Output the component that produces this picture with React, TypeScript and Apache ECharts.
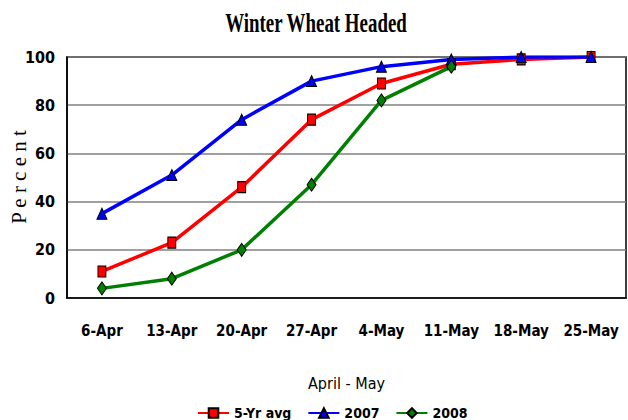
import React, { useEffect, useRef } from "react";
import * as echarts from "echarts";

const categories = ["6-Apr", "13-Apr", "20-Apr", "27-Apr", "4-May", "11-May", "18-May", "25-May"];
const avg5yr = [11, 23, 46, 74, 89, 97, 99, 100];
const y2007 = [35, 51, 74, 90, 96, 99, 100, 100];
const y2008 = [4, 8, 20, 47, 82, 96, null, null];
const yTicks = { min: 0, max: 100, interval: 20 };

const condensed = "'Liberation Sans Narrow', 'DejaVu Sans Condensed', 'Arial Narrow', sans-serif";

export default function App() {
  const ref = useRef<HTMLDivElement>(null);
  useEffect(() => {
    if (!ref.current) return;
    const chart = echarts.init(ref.current, null, { renderer: "svg" });
    const mk = (name: string, data: (number | null)[], color: string, symbol: string, size: number | number[]) => ({
      name,
      type: "line",
      data,
      symbol,
      symbolSize: size,
      showAllSymbol: true,
      connectNulls: false,
      lineStyle: { color, width: 3.5 },
      itemStyle: { color, borderColor: "#000", borderWidth: 1 },
    });
    chart.setOption({
      animation: false,
      backgroundColor: "#fff",
      graphic: [
        {
          type: "text",
          x: 316,
          y: 23,
          scaleX: 0.7,
          style: {
            text: "Winter Wheat Headed",
            font: "bold 27px 'Liberation Serif', 'Times New Roman', serif",
            fill: "#000",
            align: "center",
            verticalAlign: "middle",
          },
        },
        {
          type: "text",
          x: 19,
          y: 177,
          rotation: Math.PI / 2,
          style: {
            text: "P e r c e n t",
            font: "21px 'Liberation Serif', 'Times New Roman', serif",
            fill: "#000",
            align: "center",
            verticalAlign: "middle",
          },
        },
      ],
      grid: {
        left: 67,
        right: 2,
        top: 57,
        bottom: 122,
        show: true,
        borderColor: "#000",
        borderWidth: 1.5,
      },
      xAxis: {
        type: "category",
        data: categories,
        boundaryGap: true,
        name: "April - May",
        nameLocation: "middle",
        nameGap: 77,
        nameTextStyle: { fontFamily: condensed, fontSize: 16, color: "#000" },
        axisLine: { lineStyle: { color: "#000", width: 1.5 } },
        axisTick: { show: false },
        axisLabel: {
          interval: 0,
          color: "#000",
          fontFamily: condensed,
          fontWeight: "bold",
          fontSize: 15,
          margin: 25,
        },
      },
      yAxis: {
        type: "value",
        min: yTicks.min,
        max: yTicks.max,
        interval: yTicks.interval,
        axisLine: { show: true, lineStyle: { color: "#000", width: 1.5 } },
        axisTick: { show: false },
        splitLine: { lineStyle: { color: "#808080", width: 1.5 } },
        axisLabel: {
          color: "#000",
          fontFamily: condensed,
          fontWeight: "bold",
          fontSize: 16,
          margin: 12,
        },
      },
      legend: {
        bottom: -5,
        left: 192,
        itemWidth: 31,
        itemHeight: 12,
        itemGap: 16,
        textStyle: { fontFamily: condensed, fontWeight: "bold", fontSize: 14, color: "#000" },
        data: ["5-Yr avg", "2007", "2008"],
      },
      series: [
        mk("5-Yr avg", avg5yr, "#ff0000", "rect", [8, 11]),
        mk("2007", y2007, "#0000ff", "triangle", [10, 11]),
        mk("2008", y2008, "#008000", "diamond", [9, 13]),
      ],
    });
    return () => chart.dispose();
  }, []);
  return <div ref={ref} style={{ width: 628, height: 420, position: "absolute", left: 0, top: 0 }} />;
}
